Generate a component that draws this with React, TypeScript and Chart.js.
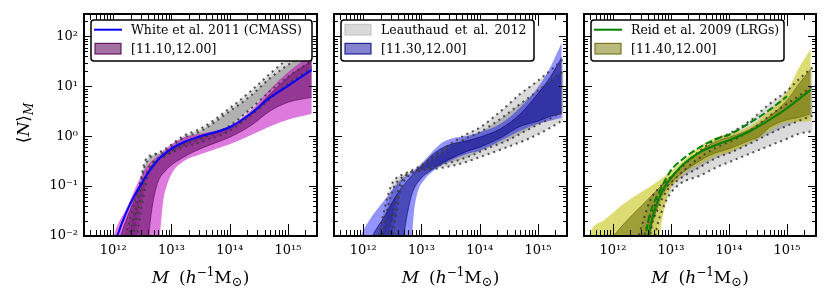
import React, { useEffect, useRef } from "react";
import { Chart, registerables } from "chart.js";

Chart.register(...registerables);

const FONT = '"DejaVu Serif", "Liberation Serif", serif';

// ---- axes (log10 ranges) and tick labels ----
const xLogRange = [11.5, 15.5];
const yLogRange = [-2, 2.45];
const xTickValues = [1e12, 1e13, 1e14, 1e15];
const xTickLabels = ["10¹²", "10¹³", "10¹⁴", "10¹⁵"];
const yTickValues = [1e-2, 1e-1, 1e0, 1e1, 1e2];
const yTickLabels = ["10⁻²", "10⁻¹", "10⁰", "10¹", "10²"];
const xAxisTitle = ["M", "(", "h", "−1", "M", "⊙", ")"];
const yAxisTitle = ["⟨", "N", "⟩", "M"];

// ---- data: pairs of [log10 M, log10 <N>_M] ----
// Panel 1
const p1White2011 = [[11.98,-2.35],[12.07,-2.0],[12.24,-1.49],[12.5,-0.92],[12.76,-0.49],[13.0,-0.25],[13.21,-0.12],[13.5,0.0],[14.0,0.18],[14.36,0.45],[14.7,0.78],[15.0,1.01],[15.41,1.33]];
const p1PurpleOuterHi = [[11.9,-2.6],[12.01,-2.0],[12.24,-1.42],[12.53,-0.69],[12.81,-0.35],[13.05,-0.12],[13.21,-0.02],[13.5,0.05],[14.0,0.21],[14.36,0.51],[14.7,0.95],[15.0,1.28],[15.41,1.65]];
const p1PurpleOuterLo = [[11.9,-4.5],[12.7,-3.0],[12.8,-2.0],[12.86,-1.3],[12.92,-1.0],[13.02,-0.72],[13.21,-0.5],[13.5,-0.36],[14.0,-0.16],[14.36,0.02],[14.7,0.2],[15.0,0.33],[15.41,0.45]];
const p1PurpleInnerHi = [[11.9,-3.0],[12.13,-2.0],[12.36,-1.29],[12.64,-0.62],[12.93,-0.32],[13.21,-0.12],[13.5,0.01],[14.0,0.18],[14.36,0.45],[14.7,0.85],[15.0,1.18],[15.41,1.51]];
const p1PurpleInnerLo = [[11.9,-4.5],[12.55,-2.8],[12.61,-2.0],[12.67,-1.42],[12.76,-0.95],[12.9,-0.69],[13.21,-0.42],[13.5,-0.25],[14.0,-0.02],[14.36,0.21],[14.7,0.51],[15.0,0.68],[15.41,0.78]];
const p1GreyOuterHi = [[11.9,-3.4],[12.21,-2.0],[12.36,-1.35],[12.47,-0.89],[12.55,-0.49],[12.73,-0.35],[12.9,-0.25],[13.21,0.01],[13.5,0.15],[14.0,0.56],[14.36,0.9],[14.7,1.26],[15.0,1.55],[15.41,1.9]];
const p1GreyOuterLo = [[11.9,-4.5],[12.3,-2.8],[12.41,-2.0],[12.48,-1.49],[12.59,-0.82],[12.7,-0.52],[12.9,-0.39],[13.21,-0.22],[13.5,-0.12],[14.0,0.11],[14.36,0.41],[14.7,0.75],[15.0,1.05],[15.41,1.38]];
const p1GreyInnerHi = [[11.9,-3.8],[12.27,-2.0],[12.41,-1.35],[12.56,-0.55],[12.87,-0.32],[13.21,-0.03],[13.5,0.1],[14.0,0.5],[14.36,0.81],[14.7,1.17],[15.0,1.43],[15.41,1.75]];
const p1GreyInnerLo = [[11.9,-4.5],[12.25,-2.9],[12.35,-2.0],[12.44,-1.42],[12.59,-0.69],[12.87,-0.41],[13.21,-0.17],[13.5,-0.05],[14.0,0.21],[14.36,0.55],[14.7,0.91],[15.0,1.19],[15.41,1.51]];

// Panel 2
const p2BlueOuterHi = [[11.75,-2.8],[11.96,-2.0],[12.07,-1.75],[12.36,-1.29],[12.64,-0.89],[12.87,-0.69],[13.1,-0.42],[13.33,-0.15],[13.5,-0.05],[13.79,0.01],[14.0,0.08],[14.36,0.25],[14.7,0.58],[15.0,0.98],[15.21,1.38],[15.41,1.88]];
const p2BlueOuterLo = [[11.75,-4.5],[12.78,-3.0],[12.84,-2.0],[12.87,-1.55],[12.93,-1.15],[13.04,-0.89],[13.21,-0.69],[13.5,-0.49],[13.79,-0.35],[14.0,-0.29],[14.36,-0.09],[14.7,0.11],[15.0,0.25],[15.21,0.31],[15.41,0.37]];
const p2BlueInnerHi = [[11.75,-3.2],[12.16,-2.0],[12.36,-1.62],[12.59,-1.15],[12.81,-0.82],[13.04,-0.55],[13.21,-0.35],[13.44,-0.19],[13.79,-0.09],[14.0,-0.02],[14.36,0.15],[14.7,0.45],[15.0,0.85],[15.21,1.18],[15.41,1.58]];
const p2BlueInnerLo = [[11.75,-4.5],[12.64,-2.8],[12.7,-2.0],[12.76,-1.55],[12.84,-1.15],[12.99,-0.85],[13.16,-0.69],[13.5,-0.45],[13.79,-0.3],[14.0,-0.22],[14.36,-0.03],[14.7,0.2],[15.0,0.3],[15.21,0.4],[15.41,0.45]];
const p2GreyOuterHi = [[11.9,-3.5],[12.27,-2.0],[12.36,-1.49],[12.47,-1.02],[12.56,-0.85],[12.73,-0.74],[12.99,-0.59],[13.21,-0.39],[13.5,-0.15],[13.79,0.05],[14.0,0.17],[14.36,0.5],[14.7,0.85],[15.0,1.11],[15.44,1.55]];
const p2GreyOuterLo = [[11.9,-4.5],[12.4,-2.8],[12.5,-2.0],[12.57,-1.55],[12.64,-1.09],[12.76,-0.82],[12.99,-0.69],[13.32,-0.64],[13.67,-0.55],[14.12,-0.37],[14.47,-0.22],[14.86,-0.04],[15.2,0.16],[15.44,0.33]];
const p2GreyInnerHi = [[11.9,-3.7],[12.33,-2.0],[12.41,-1.49],[12.53,-1.02],[12.64,-0.85],[12.99,-0.63],[13.21,-0.45],[13.5,-0.22],[13.79,-0.03],[14.0,0.08],[14.36,0.35],[14.7,0.65],[15.0,0.91],[15.44,1.31]];
const p2GreyInnerLo = [[11.9,-4.5],[12.35,-2.8],[12.44,-2.0],[12.52,-1.55],[12.6,-1.09],[12.73,-0.8],[12.99,-0.66],[13.32,-0.58],[13.79,-0.42],[14.12,-0.25],[14.47,-0.09],[14.86,0.15],[15.2,0.35],[15.44,0.51]];

// Panel 3
const p3Reid2009 = [[12.55,-2.5],[12.61,-2.0],[12.7,-1.55],[12.84,-1.12],[13.04,-0.78],[13.21,-0.56],[13.5,-0.32],[13.79,-0.17],[14.0,-0.08],[14.36,0.1],[14.7,0.33],[15.0,0.56],[15.41,0.93]];
const p3Dashed = [[12.5,-2.5],[12.56,-2.0],[12.64,-1.55],[12.81,-1.09],[12.99,-0.7],[13.21,-0.45],[13.5,-0.22],[13.79,-0.05],[14.0,0.03],[14.36,0.27],[14.7,0.53],[15.0,0.8]];
const p3YellowOuterHi = [[11.55,-2.3],[11.59,-2.0],[11.84,-1.69],[12.19,-1.35],[12.53,-1.09],[12.87,-0.82],[13.21,-0.49],[13.5,-0.2],[13.79,-0.02],[14.0,0.05],[14.36,0.2],[14.7,0.52],[15.0,0.9],[15.21,1.38],[15.41,1.75]];
const p3YellowOuterLo = [[11.55,-4.5],[12.75,-3.0],[12.81,-2.0],[12.87,-1.55],[12.96,-1.15],[13.1,-0.89],[13.21,-0.75],[13.5,-0.55],[13.79,-0.38],[14.0,-0.32],[14.36,-0.12],[14.53,-0.02],[14.7,0.12],[15.0,0.28],[15.21,0.29],[15.41,0.3]];
const p3YellowInnerHi = [[11.55,-2.8],[12.01,-2.0],[12.24,-1.69],[12.53,-1.35],[12.81,-1.02],[13.1,-0.69],[13.39,-0.42],[13.5,-0.3],[13.79,-0.1],[14.0,-0.02],[14.36,0.14],[14.7,0.4],[15.0,0.72],[15.21,1.05],[15.41,1.35]];
const p3YellowInnerLo = [[11.55,-4.5],[12.58,-2.8],[12.64,-2.0],[12.73,-1.55],[12.84,-1.19],[13.04,-0.89],[13.33,-0.62],[13.67,-0.38],[14.0,-0.25],[14.36,-0.08],[14.53,0.0],[14.7,0.18],[15.0,0.33],[15.21,0.38],[15.41,0.45]];
const p3GreyOuterHi = [[11.9,-3.8],[12.44,-2.0],[12.64,-1.29],[12.81,-1.02],[12.99,-0.82],[13.21,-0.59],[13.5,-0.29],[13.79,-0.05],[14.0,0.05],[14.36,0.31],[14.7,0.65],[15.0,0.91],[15.21,1.15],[15.44,1.38]];
const p3GreyOuterLo = [[11.9,-4.5],[12.65,-2.8],[12.73,-2.0],[12.87,-1.42],[12.99,-1.15],[13.16,-0.95],[13.5,-0.79],[13.79,-0.62],[14.0,-0.52],[14.36,-0.35],[14.7,-0.19],[15.0,-0.05],[15.21,0.05],[15.44,0.1]];
const p3GreyInnerHi = [[11.9,-4.0],[12.53,-2.0],[12.7,-1.42],[12.87,-1.09],[13.1,-0.82],[13.39,-0.52],[13.79,-0.22],[14.0,-0.12],[14.36,0.11],[14.7,0.41],[15.0,0.65],[15.21,0.81],[15.44,1.01]];
const p3GreyInnerLo = [[11.9,-4.5],[12.58,-2.8],[12.64,-2.0],[12.79,-1.42],[12.93,-1.09],[13.16,-0.85],[13.5,-0.62],[13.79,-0.43],[14.0,-0.34],[14.36,-0.15],[14.7,0.05],[15.0,0.21],[15.21,0.31],[15.44,0.41]];

// ---- legend labels ----
const legendLabels1 = ["White et al. 2011 (CMASS)", "[11.10,12.00]"];
const legendLabels2 = ["Leauthaud et al. 2012", "[11.30,12.00]"];
const legendLabels3 = ["Reid et al. 2009 (LRGs)", "[11.40,12.00]"];

type Curve = number[][];
type LegendItem = { kind: "line" | "patch"; color: string; edge?: string; label: string; wordSpacing?: string };
type LineDef = { data: Curve; color: string; dash?: number[] };
type Panel = {
  left: number; right: number; showY: boolean;
  greyOuter: [Curve, Curve]; greyInner: [Curve, Curve];
  colOuter: [Curve, Curve]; colInner: [Curve, Curve];
  colOuterFill: string; colInnerFill: string; colInnerEdge: string;
  lines: LineDef[];
  legend: LegendItem[]; legendRight: number;
};

const GREY_OUTER = "rgba(150,150,150,0.35)";
const GREY_INNER = "rgba(90,90,90,0.32)";
const DOT_COLOR = "rgba(60,60,60,0.9)";

const PANELS: Panel[] = [
  {
    left: 84, right: 317, showY: true,
    greyOuter: [p1GreyOuterHi, p1GreyOuterLo], greyInner: [p1GreyInnerHi, p1GreyInnerLo],
    colOuter: [p1PurpleOuterHi, p1PurpleOuterLo], colInner: [p1PurpleInnerHi, p1PurpleInnerLo],
    colOuterFill: "rgba(191,0,191,0.52)", colInnerFill: "rgba(90,0,90,0.55)", colInnerEdge: "rgba(80,0,80,0.6)",
    lines: [{ data: p1White2011, color: "#0000ff" }],
    legend: [
      { kind: "line", color: "#0000ff", label: legendLabels1[0] },
      { kind: "patch", color: "rgba(100,20,100,0.6)", edge: "rgba(90,10,90,0.9)", label: legendLabels1[1] },
    ],
    legendRight: 312,
  },
  {
    left: 334, right: 567, showY: false,
    greyOuter: [p2GreyOuterHi, p2GreyOuterLo], greyInner: [p2GreyInnerHi, p2GreyInnerLo],
    colOuter: [p2BlueOuterHi, p2BlueOuterLo], colInner: [p2BlueInnerHi, p2BlueInnerLo],
    colOuterFill: "rgba(0,0,255,0.42)", colInnerFill: "rgba(0,0,120,0.5)", colInnerEdge: "rgba(0,0,110,0.6)",
    lines: [],
    legend: [
      { kind: "patch", color: "#d9d9d9", edge: "#c6c6c6", label: legendLabels2[0], wordSpacing: "2px" },
      { kind: "patch", color: "rgba(30,30,170,0.55)", edge: "rgba(20,20,140,0.9)", label: legendLabels2[1] },
    ],
    legendRight: 534,
  },
  {
    left: 584, right: 816, showY: false,
    greyOuter: [p3GreyOuterHi, p3GreyOuterLo], greyInner: [p3GreyInnerHi, p3GreyInnerLo],
    colOuter: [p3YellowOuterHi, p3YellowOuterLo], colInner: [p3YellowInnerHi, p3YellowInnerLo],
    colOuterFill: "rgba(191,191,0,0.55)", colInnerFill: "rgba(100,100,0,0.5)", colInnerEdge: "rgba(90,90,0,0.55)",
    lines: [
      { data: p3Reid2009, color: "#008000" },
      { data: p3Dashed, color: "#008000", dash: [7, 3] },
    ],
    legend: [
      { kind: "line", color: "#008000", label: legendLabels3[0] },
      { kind: "patch", color: "rgba(130,130,20,0.55)", edge: "rgba(110,110,20,0.9)", label: legendLabels3[1] },
    ],
    legendRight: 784,
  },
];

const toPts = (c: Curve) => c.map(([m, n]) => ({ x: 10 ** m, y: 10 ** n }));

function buildDatasets(p: Panel) {
  const ds: any[] = [];
  const base = {
    pointRadius: 0, pointHoverRadius: 0, cubicInterpolationMode: "monotone",
    capBezierPoints: false, borderWidth: 0, fill: false, borderColor: "transparent",
  };
  const band = (hi: Curve, lo: Curve, color: string, order: number, edge?: string, ew?: number) => {
    const loIdx = ds.length + 1;
    ds.push({ ...base, data: toPts(hi), fill: loIdx, backgroundColor: color, borderColor: edge || "transparent", borderWidth: ew || 0, order });
    ds.push({ ...base, data: toPts(lo), borderColor: edge || "transparent", borderWidth: ew || 0, order });
  };
  band(p.greyOuter[0], p.greyOuter[1], GREY_OUTER, 60);
  band(p.greyInner[0], p.greyInner[1], GREY_INNER, 50);
  band(p.colOuter[0], p.colOuter[1], p.colOuterFill, 40);
  band(p.colInner[0], p.colInner[1], p.colInnerFill, 30, p.colInnerEdge, 1);
  [p.greyOuter[0], p.greyOuter[1], p.greyInner[0], p.greyInner[1]].forEach((c) => {
    ds.push({ ...base, data: toPts(c), borderColor: DOT_COLOR, borderWidth: 2, borderDash: [2, 4], borderCapStyle: "butt", order: 20 });
  });
  p.lines.forEach((l) => {
    ds.push({ ...base, data: toPts(l.data), borderColor: l.color, borderWidth: 2, borderDash: l.dash || [], order: 10 });
  });
  return ds;
}

function drawPieces(ctx: CanvasRenderingContext2D, pieces: { t: string; font: string; dy?: number; gap?: number }[], cx: number, baseline: number) {
  let total = 0;
  const widths = pieces.map((pc) => {
    ctx.font = pc.font;
    const w = ctx.measureText(pc.t).width;
    total += w + (pc.gap || 0);
    return w;
  });
  let x = cx - total / 2;
  pieces.forEach((pc, i) => {
    ctx.font = pc.font;
    ctx.fillText(pc.t, x, baseline + (pc.dy || 0));
    x += widths[i] + (pc.gap || 0);
  });
}

function decorPlugin(p: Panel) {
  return {
    id: "decor",
    afterDatasetsDraw(chart: any) {
      const { ctx, chartArea: a, scales } = chart;
      const xs = scales.x, ys = scales.y;
      ctx.save();
      // inward ticks on all four sides
      ctx.strokeStyle = "#000";
      ctx.lineWidth = 1;
      ctx.beginPath();
      for (let e = 11; e <= 15; e++) {
        for (let k = 1; k <= 9; k++) {
          const lv = e + Math.log10(k);
          if (lv < xLogRange[0] || lv > xLogRange[1]) continue;
          const px = Math.round(xs.getPixelForValue(10 ** lv)) + 0.5;
          const L = k === 1 ? 12 : 6;
          ctx.moveTo(px, a.bottom); ctx.lineTo(px, a.bottom - L);
          ctx.moveTo(px, a.top); ctx.lineTo(px, a.top + L);
        }
      }
      for (let e = -2; e <= 2; e++) {
        for (let k = 1; k <= 9; k++) {
          const lv = e + Math.log10(k);
          if (lv < yLogRange[0] || lv > yLogRange[1]) continue;
          const py = Math.round(ys.getPixelForValue(10 ** lv)) + 0.5;
          const L = k === 1 ? 8 : 4;
          ctx.moveTo(a.left, py); ctx.lineTo(a.left + L, py);
          ctx.moveTo(a.right, py); ctx.lineTo(a.right - L, py);
        }
      }
      ctx.stroke();
      // frame
      ctx.lineWidth = 2;
      ctx.strokeRect(a.left, a.top, a.right - a.left, a.bottom - a.top);

      // legend
      const L0 = a.left + 7, T0 = 20, B0 = 61, R0 = p.legendRight;
      ctx.beginPath();
      const r = 3;
      ctx.moveTo(L0 + r, T0);
      ctx.lineTo(R0 - r, T0); ctx.quadraticCurveTo(R0, T0, R0, T0 + r);
      ctx.lineTo(R0, B0 - r); ctx.quadraticCurveTo(R0, B0, R0 - r, B0);
      ctx.lineTo(L0 + r, B0); ctx.quadraticCurveTo(L0, B0, L0, B0 - r);
      ctx.lineTo(L0, T0 + r); ctx.quadraticCurveTo(L0, T0, L0 + r, T0);
      ctx.closePath();
      ctx.fillStyle = "#fff";
      ctx.fill();
      ctx.lineWidth = 1.5;
      ctx.strokeStyle = "#000";
      ctx.stroke();
      const rows = [29.7, 48.7];
      p.legend.forEach((it, i) => {
        const yc = rows[i];
        if (it.kind === "line") {
          ctx.beginPath();
          ctx.strokeStyle = it.color;
          ctx.lineWidth = 2;
          ctx.moveTo(L0 + 3, yc); ctx.lineTo(L0 + 31, yc);
          ctx.stroke();
        } else {
          ctx.fillStyle = it.color;
          ctx.fillRect(L0 + 4, yc - 5.3, 26, 10.6);
          ctx.strokeStyle = it.edge || it.color;
          ctx.lineWidth = 1.2;
          ctx.strokeRect(L0 + 4, yc - 5.3, 26, 10.6);
        }
        ctx.fillStyle = "#000";
        ctx.font = "12.5px " + FONT;
        ctx.textBaseline = "alphabetic";
        ctx.textAlign = "left";
        (ctx as any).wordSpacing = it.wordSpacing || "0px";
        ctx.fillText(it.label, L0 + 40, yc + 4.7);
        (ctx as any).wordSpacing = "0px";
      });
      ctx.restore();
    },
    afterDraw(chart: any) {
      const { ctx, chartArea: a } = chart;
      ctx.save();
      ctx.fillStyle = "#000";
      ctx.textBaseline = "alphabetic";
      ctx.textAlign = "left";
      const big = "17px " + FONT, bigI = "italic 17px " + FONT;
      drawPieces(ctx, [
        { t: xAxisTitle[0], font: bigI, gap: 10 },
        { t: xAxisTitle[1], font: big },
        { t: xAxisTitle[2], font: bigI },
        { t: xAxisTitle[3], font: "12px " + FONT, dy: -7 },
        { t: xAxisTitle[4], font: big },
        { t: xAxisTitle[5], font: "13px " + FONT, dy: 3 },
        { t: xAxisTitle[6], font: big },
      ], (a.left + a.right) / 2, 283);
      if (p.showY) {
        ctx.translate(29, 123);
        ctx.rotate(-Math.PI / 2);
        drawPieces(ctx, [
          { t: yAxisTitle[0], font: big },
          { t: yAxisTitle[1], font: bigI },
          { t: yAxisTitle[2], font: big },
          { t: yAxisTitle[3], font: "italic 12px " + FONT, dy: 4 },
        ], 0, 0);
      }
      ctx.restore();
    },
  };
}

function makeConfig(p: Panel): any {
  return {
    type: "line",
    data: { datasets: buildDatasets(p) },
    options: {
      animation: false,
      responsive: false,
      devicePixelRatio: 1,
      events: [],
      layout: { padding: { left: p.showY ? 0 : p.left, top: 14, right: 831 - p.right, bottom: 0 } },
      plugins: { legend: { display: false }, tooltip: { enabled: false }, title: { display: false } },
      scales: {
        x: {
          type: "logarithmic",
          min: 10 ** xLogRange[0],
          max: 10 ** xLogRange[1],
          grid: { display: false, drawTicks: false },
          border: { display: false },
          ticks: {
            autoSkip: false, maxRotation: 0, minRotation: 0, padding: 7, color: "#000",
            font: { family: FONT, size: 13 },
            callback: (_v: any, i: number) => xTickLabels[i],
          },
          afterBuildTicks: (s: any) => { s.ticks = xTickValues.map((v) => ({ value: v })); },
          afterFit: (s: any) => { s.height = 66; },
        },
        y: {
          type: "logarithmic",
          min: 10 ** yLogRange[0],
          max: 10 ** yLogRange[1],
          grid: { display: false, drawTicks: false },
          border: { display: false },
          ticks: {
            display: p.showY, autoSkip: false, padding: 6, color: "#000",
            font: { family: FONT, size: 13 },
            callback: (_v: any, i: number) => yTickLabels[i],
          },
          afterBuildTicks: (s: any) => { s.ticks = yTickValues.map((v) => ({ value: v })); },
          afterFit: (s: any) => { s.width = p.showY ? p.left : 0; },
        },
      },
    },
    plugins: [decorPlugin(p)],
  };
}

export default function App() {
  const r0 = useRef<HTMLCanvasElement>(null);
  const r1 = useRef<HTMLCanvasElement>(null);
  const r2 = useRef<HTMLCanvasElement>(null);
  const refs = [r0, r1, r2];
  useEffect(() => {
    const charts = PANELS.map((p, i) => new Chart(refs[i].current as HTMLCanvasElement, makeConfig(p)));
    return () => charts.forEach((c) => c.destroy());
  }, []);
  return (
    <div style={{ position: "fixed", left: 0, top: 0, width: 831, height: 302, background: "#fff" }}>
      {refs.map((r, i) => (
        <canvas key={i} ref={r} width={831} height={302}
          style={{ position: "absolute", left: 0, top: 0, width: 831, height: 302 }} />
      ))}
    </div>
  );
}
